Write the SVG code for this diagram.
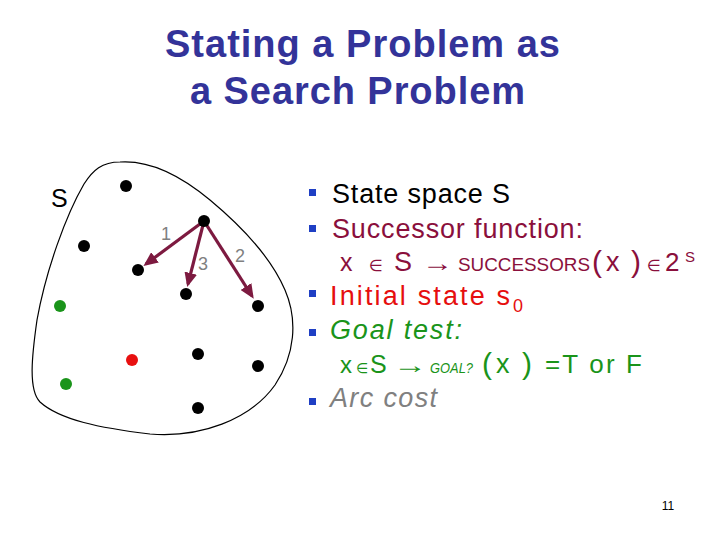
<svg xmlns="http://www.w3.org/2000/svg" width="720" height="540" viewBox="0 0 720 540">
<style>
.title{font-family:"Liberation Sans","DejaVu Sans",sans-serif;font-weight:bold;font-size:38px;fill:#333399}
.body{font-family:"Liberation Sans","DejaVu Sans",sans-serif;font-size:27px}
.bul{fill:#1f3fc4}
.dot{fill:#000}
.lbl{font-family:"Liberation Sans","DejaVu Sans",sans-serif;font-size:18px;fill:#808080}
.arrow{stroke:#7d1a40;stroke-width:3.2;fill:none}
</style>
<defs>
<marker id="ah" markerWidth="4.5" markerHeight="4" refX="3.5" refY="2" orient="auto" markerUnits="strokeWidth">
<path d="M0,0 L4.5,2 L0,4 Z" fill="#7d1a40"/>
</marker>
</defs>
<rect width="720" height="540" fill="#fff"/>
<g id="title">
<text class="title" x="165" y="57" textLength="395">Stating a Problem as</text>
<text class="title" x="190" y="104" textLength="335">a Search Problem</text>
</g>
<g id="statespace">
<path d="M120,162 C102,162 93,170 84,184 C66,215 46,270 37,320 C32,355 28,390 40,402 C60,420 100,428 150,434 C200,438 250,420 275,385 C295,355 298,320 285,290 C270,255 240,225 210,200 C180,175 150,160 120,162 Z" fill="none" stroke="#000" stroke-width="1.2"/>
<text x="51" y="207" font-family="Liberation Sans,DejaVu Sans,sans-serif" font-size="25" fill="#000">S</text>
</g>
<g id="connectors">
<line class="arrow" x1="204" y1="221" x2="146" y2="264" marker-end="url(#ah)"/>
<line class="arrow" x1="204" y1="221" x2="188" y2="284" marker-end="url(#ah)"/>
<line class="arrow" x1="204" y1="221" x2="252" y2="296" marker-end="url(#ah)"/>
<text class="lbl" x="166" y="240" text-anchor="middle">1</text>
<text class="lbl" x="203" y="270" text-anchor="middle">3</text>
<text class="lbl" x="240" y="262" text-anchor="middle">2</text>
</g>
<g id="n1"><circle class="dot" cx="126" cy="186" r="6"/></g>
<g id="n2"><circle class="dot" cx="84" cy="246" r="6"/></g>
<g id="n3"><circle class="dot" cx="138" cy="270" r="6"/></g>
<g id="n4"><circle class="dot" cx="204" cy="221" r="6"/></g>
<g id="n5"><circle class="dot" cx="186" cy="294" r="6"/></g>
<g id="n6"><circle class="dot" cx="258" cy="306" r="6"/></g>
<g id="n7"><circle cx="60" cy="306" r="6" fill="#1a941a"/></g>
<g id="n8"><circle cx="132" cy="360" r="6" fill="#e81010"/></g>
<g id="n9"><circle class="dot" cx="198" cy="354" r="6"/></g>
<g id="n10"><circle class="dot" cx="258" cy="366" r="6"/></g>
<g id="n11"><circle cx="66" cy="384" r="6" fill="#1a941a"/></g>
<g id="n12"><circle class="dot" cx="198" cy="408" r="6"/></g>
<g id="bullets">
<rect class="bul" x="309" y="189" width="7" height="7"/>
<rect class="bul" x="309" y="225" width="7" height="7"/>
<rect class="bul" x="309" y="290" width="7" height="7"/>
<rect class="bul" x="309" y="329" width="7" height="7"/>
<rect class="bul" x="309" y="398" width="7" height="7"/>
<text class="body" x="332" y="203" fill="#000" textLength="178">State space S</text>
<text class="body" x="332" y="238" fill="#8a0f3c" textLength="251">Successor function:</text>
<g fill="#8a0f3c" font-family="Liberation Sans,DejaVu Sans,sans-serif">
<text x="340" y="271" font-size="25">x</text>
<text x="369" y="271" font-size="16">∈</text>
<text x="394" y="271" font-size="27">S</text>
<text x="422" y="271" font-size="24" textLength="31" lengthAdjust="spacingAndGlyphs">→</text>
<text x="458" y="271" font-size="18" textLength="132" lengthAdjust="spacingAndGlyphs">SUCCESSORS</text>
<text x="592" y="272" font-size="30">(</text>
<text x="606" y="271" font-size="27">x</text>
<text x="631" y="272" font-size="30">)</text>
<text x="647" y="271" font-size="16">∈</text>
<text x="665" y="271" font-size="26">2</text>
<text x="685" y="262" font-size="15">S</text>
</g>
<text class="body" x="330" y="305" fill="#e60e0e" textLength="180">Initial state s</text>
<text x="513" y="312" font-family="Liberation Sans,DejaVu Sans,sans-serif" font-size="18" fill="#e60e0e">0</text>
<text class="body" x="330" y="339" fill="#1a941a" font-style="italic" textLength="132">Goal test:</text>
<g fill="#1a941a" font-family="Liberation Sans,DejaVu Sans,sans-serif">
<text x="340" y="373" font-size="24">x</text>
<text x="356" y="373" font-size="14">∈</text>
<text x="370" y="373" font-size="25">S</text>
<text x="393" y="373" font-size="24" textLength="34" lengthAdjust="spacingAndGlyphs">→</text>
<text x="430" y="373" font-size="15" font-style="italic" textLength="43" lengthAdjust="spacingAndGlyphs">GOAL?</text>
<text x="482" y="374" font-size="30">(</text>
<text x="496" y="373" font-size="27">x</text>
<text x="522" y="374" font-size="30">)</text>
<text x="545" y="373" font-size="26" textLength="97">=T or F</text>
</g>
<text class="body" x="330" y="407" fill="#808080" font-style="italic" textLength="107">Arc cost</text>
</g>
<text x="668" y="510" font-family="Liberation Sans,DejaVu Sans,sans-serif" font-size="12" fill="#000" text-anchor="middle">11</text>
</svg>
